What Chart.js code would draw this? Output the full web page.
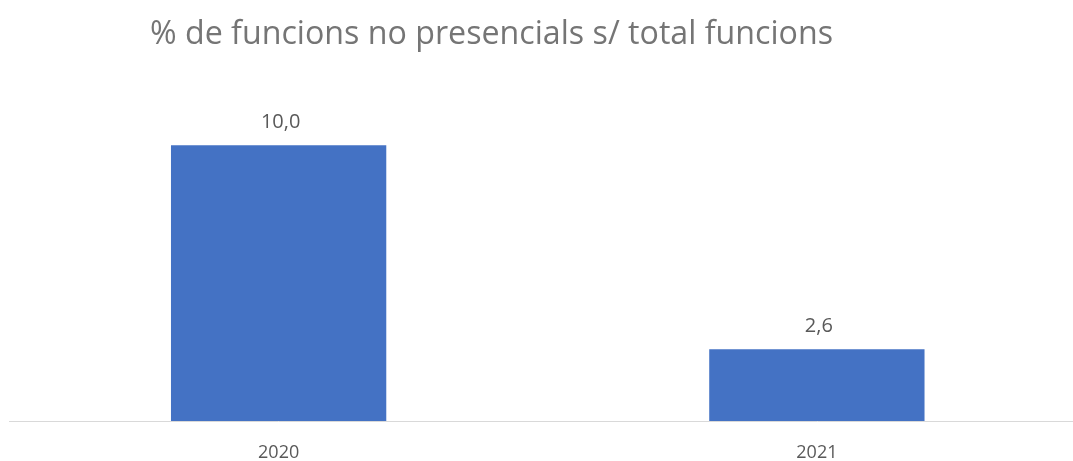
<!DOCTYPE html>
<html>
<head>
<meta charset="utf-8">
<script src="https://cdn.jsdelivr.net/npm/chart.js@4/dist/chart.umd.min.js"></script>
<style>
  html, body { margin: 0; padding: 0; background: #fff; overflow: hidden; }
  #wrap { width: 1086px; height: 461px; }
</style>
</head>
<body>
<div id="wrap"><canvas id="chart" width="1086" height="461"></canvas></div>
<script>
const TITLE = '% de funcions no presencials s/ total funcions';
const years = ['2020', '2021'];
const shares = [10.0, 2.6];
const yMax = 12;

const textColor = '#595959';
const titleColor = '#757575';
const fontFamily = "'Open Sans', 'Noto Sans', sans-serif";

// title sits off-centre in the original, so draw it by hand
const titlePlugin = {
  id: 'sideTitle',
  afterDraw(chart) {
    const ctx = chart.ctx;
    ctx.save();
    ctx.font = '32.2px ' + fontFamily;
    ctx.fillStyle = titleColor;
    ctx.textAlign = 'left';
    ctx.textBaseline = 'alphabetic';
    ctx.fillText(TITLE, 150, 44);
    ctx.restore();
  }
};

// value labels above each bar, with comma decimals
const valueLabels = {
  id: 'valueLabels',
  afterDatasetsDraw(chart) {
    const ctx = chart.ctx;
    const meta = chart.getDatasetMeta(0);
    ctx.save();
    ctx.font = '20px ' + fontFamily;
    ctx.fillStyle = textColor;
    ctx.textAlign = 'center';
    ctx.textBaseline = 'alphabetic';
    meta.data.forEach((bar, i) => {
      const txt = shares[i].toFixed(1).replace('.', ',');
      ctx.fillText(txt, bar.x + 2, bar.y - 17);
    });
    ctx.restore();
  }
};

new Chart(document.getElementById('chart'), {
  type: 'bar',
  data: {
    labels: years,
    datasets: [{
      data: shares,
      backgroundColor: '#4472C4',
      categoryPercentage: 1,
      barPercentage: 0.4
    }]
  },
  options: {
    responsive: false,
    animation: false,
    layout: { padding: { top: 90, left: 9.5, right: 0, bottom: 0 } },
    plugins: { legend: { display: false }, tooltip: { enabled: false } },
    scales: {
      y: { display: false, min: 0, max: yMax },
      x: {
        grid: { display: false, drawTicks: false },
        border: { display: true, color: '#d9d9d9', width: 1 },
        ticks: { color: textColor, font: { family: fontFamily, size: 18 }, padding: 21 },
        afterFit(scale) { scale.height = 40; }
      }
    }
  },
  plugins: [titlePlugin, valueLabels]
});
</script>
</body>
</html>
